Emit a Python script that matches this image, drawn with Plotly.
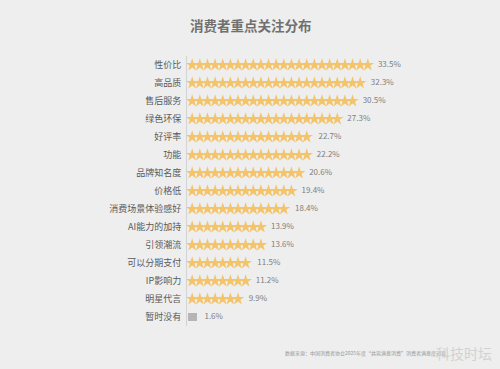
import plotly.graph_objects as go

categories = ["性价比", "高品质", "售后服务", "绿色环保", "好评率", "功能", "品牌知名度", "价格低",
              "消费场景体验感好", "AI能力的加持", "引领潮流", "可以分期支付", "IP影响力", "明星代言", "暂时没有"]
values = [33.5, 32.3, 30.5, 27.3, 22.7, 22.2, 20.6, 19.4, 18.4, 13.9, 13.6, 11.5, 11.2, 9.9, 1.6]
labels = [f"{v}%" for v in values]
star_unit = 1.4  # percent per star icon
no_star = ["暂时没有"]

star_x, star_y = [], []
for c, v in zip(categories, values):
    if c in no_star:
        continue
    n = int(round(v / star_unit))
    for k in range(n):
        star_x.append((k + 0.5) * star_unit + 0.25)
        star_y.append(c)

fig = go.Figure()
fig.add_trace(go.Scatter(
    x=star_x, y=star_y, mode="markers",
    marker=dict(symbol="star", size=9.5, color="#F3C46A", line=dict(width=0)),
    hoverinfo="skip", showlegend=False, cliponaxis=False))

gx = [v for c, v in zip(categories, values) if c in no_star]
gy = [c for c in categories if c in no_star]
fig.add_trace(go.Bar(x=gx, y=gy, orientation="h", width=0.4,
                     marker=dict(color="#B5B5B5", line=dict(width=0)),
                     base=0.25, showlegend=False, hoverinfo="skip"))

label_x = []
for c, v in zip(categories, values):
    if c in no_star:
        label_x.append(v + 1.6)
    else:
        n = int(round(v / star_unit))
        label_x.append(max(n * star_unit, v) + 1.4)
fig.add_trace(go.Scatter(
    x=label_x, y=categories, mode="text", text=labels, textposition="middle right",
    textfont=dict(size=8, color="#808080", family="Noto Sans CJK SC"),
    hoverinfo="skip", showlegend=False, cliponaxis=False))

W, H = 500, 369
pl, pr, pt, pb = 187, 13, 56, 43
pw, ph = W - pl - pr, H - pt - pb


def px(x):
    return (x - pl) / pw


def py(y):
    return (H - pb - y) / ph


fig.update_layout(
    width=W, height=H,
    paper_bgcolor="#EEEEEE", plot_bgcolor="#EEEEEE",
    margin=dict(l=pl, r=pr, t=pt, b=pb, autoexpand=False),
    font=dict(family="Noto Sans CJK SC", color="#555555"),
    bargap=0,
    xaxis=dict(range=[0, 55], visible=False, fixedrange=True, automargin=False),
    yaxis=dict(categoryorder="array", categoryarray=categories,
               range=[len(categories) - 0.5, -0.5],
               showline=True, linecolor="#D3D3D3", linewidth=1, showgrid=False,
               ticks="outside", ticklen=3, tickcolor="rgba(0,0,0,0)", automargin=False,
               tickfont=dict(size=9, color="#5A5A5A"), zeroline=False),
    annotations=[
        dict(text="<b>消费者重点关注分布</b>", x=px(251), xref="paper", y=py(25), yref="paper",
             xanchor="center", yanchor="middle",
             showarrow=False, font=dict(size=13.5, color="#707070")),
        dict(text="数据来源：中国消费者协会2025年度“共筑满意消费”消费者满意度调查",
             x=px(283), xref="paper", y=py(353), yref="paper",
             xanchor="left", yanchor="middle", showarrow=False,
             font=dict(size=5, color="#999999")),
        dict(text="科技时坛", x=px(494), xref="paper", y=py(353), yref="paper",
             xanchor="right", yanchor="middle", showarrow=False,
             font=dict(size=14, color="#D2D2D2")),
    ],
)

fig.write_html("out.html")
